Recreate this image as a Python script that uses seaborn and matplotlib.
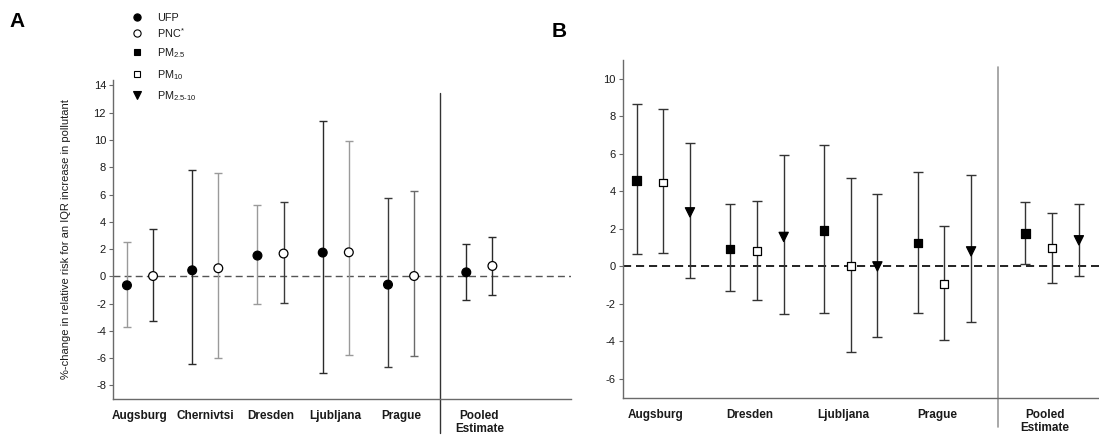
import numpy as np
import pandas as pd
import matplotlib
matplotlib.use("Agg")
import matplotlib.pyplot as plt
from matplotlib.lines import Line2D
import seaborn as sns

# ---- Panel A: ultrafine particles (UFP) and particle number concentration (PNC)
cities_a = ["Augsburg", "Chernivtsi", "Dresden", "Ljubljana", "Prague", "Pooled\nEstimate"]
ufp_est = [-0.66, 0.44, 1.52, 1.74, -0.61, 0.29]
ufp_lo = [-3.75, -6.42, -2.06, -7.08, -6.62, -1.76]
ufp_hi = [2.52, 7.80, 5.25, 11.40, 5.78, 2.38]
pnc_est = [0.02, 0.59, 1.67, 1.76, 0.02, 0.76]
pnc_lo = [-3.28, -5.96, -1.93, -5.81, -5.86, -1.35]
pnc_hi = [3.48, 7.60, 5.44, 9.93, 6.25, 2.87]
yticks_a = list(range(-8, 15, 2))

# ---- Panel B: PM2.5, PM10 and coarse fraction PM2.5-10
cities_b = ["Augsburg", "Dresden", "Ljubljana", "Prague", "Pooled\nEstimate"]
pm25_est = [4.57, 0.93, 1.91, 1.23, 1.76]
pm25_lo = [0.64, -1.33, -2.47, -2.46, 0.12]
pm25_hi = [8.68, 3.31, 6.48, 5.04, 3.42]
pm10_est = [4.47, 0.82, 0.00, -0.93, 0.96]
pm10_lo = [0.69, -1.78, -4.57, -3.91, -0.91]
pm10_hi = [8.40, 3.47, 4.73, 2.14, 2.85]
pmc_est = [2.88, 1.57, 0.00, 0.80, 1.39]
pmc_lo = [-0.60, -2.53, -3.77, -2.99, -0.53]
pmc_hi = [6.55, 5.91, 3.88, 4.86, 3.35]
yticks_b = list(range(-6, 11, 2))

sns.set_theme(style="white")
plt.rcParams["font.family"] = ["Liberation Sans", "DejaVu Sans"]
plt.rcParams["mathtext.fontset"] = "custom"
plt.rcParams["mathtext.rm"] = "Liberation Sans"
plt.rcParams["mathtext.it"] = "Liberation Sans:italic"
plt.rcParams["mathtext.bf"] = "Liberation Sans:bold"

SPINE = "#6a6a6a"
TXT = "#1a1a1a"

fig = plt.figure(figsize=(10.99, 4.37), dpi=100)
axA = fig.add_axes([0.1028, 0.0870, 0.4168, 0.7299])
axB = fig.add_axes([0.5666, 0.0899, 0.4334, 0.7728])


def group_positions(n, pooled_gap):
    """City groups sit on integer slots; the pooled estimate is pushed right."""
    pos = np.arange(n, dtype=float)
    pos[-1] = pos[-2] + pooled_gap
    return pos


def long_frame(centers, offsets, names, ests, los, his):
    rows = []
    for name, off, est, lo, hi in zip(names, offsets, ests, los, his):
        for c, e, l, h in zip(centers, est, lo, hi):
            rows.append({"x": c + off, "est": e, "lo": l, "hi": h, "pollutant": name})
    return pd.DataFrame(rows)


def style_axis(ax, yticks, ylim, xlim, centers, labels, label_shift=0.0):
    ax.set_ylim(*ylim)
    ax.set_xlim(*xlim)
    ax.set_yticks(yticks)
    ax.set_yticklabels([str(t) for t in yticks])
    ax.set_xticks(centers + label_shift)
    ax.set_xticklabels(labels, fontweight="bold", fontsize=8.5, color=TXT,
                       linespacing=1.15)
    for s in ("top", "right"):
        ax.spines[s].set_visible(False)
    for s in ("left", "bottom"):
        ax.spines[s].set_color(SPINE)
        ax.spines[s].set_linewidth(1.0)
    ax.tick_params(axis="y", direction="out", length=3, width=0.8, color=SPINE,
                   labelsize=8, labelcolor=TXT, pad=2, left=True)
    ax.tick_params(axis="x", length=0, pad=8)
    ax.set_xlabel("")
    ax.set_ylabel("")
    ax.grid(False)


# ---------------- Panel A ----------------
cent_a = group_positions(len(cities_a), 1.2)
dfA = long_frame(cent_a, [-0.2, 0.2], ["UFP", "PNC"],
                 [ufp_est, pnc_est], [ufp_lo, pnc_lo], [ufp_hi, pnc_hi])

# whisker tones alternate between dark and mid grey
bar_tone_a = {"UFP": ["#9a9a9a", "#2a2a2a", "#9a9a9a", "#2a2a2a", "#3a3a3a", "#2a2a2a"],
              "PNC": ["#2a2a2a", "#9a9a9a", "#3a3a3a", "#9a9a9a", "#6a6a6a", "#2a2a2a"]}
for name, sub in dfA.groupby("pollutant"):
    for k, (_, r) in enumerate(sub.iterrows()):
        axA.errorbar(r["x"], r["est"], yerr=[[r["est"] - r["lo"]], [r["hi"] - r["est"]]],
                     fmt="none", ecolor=bar_tone_a[name][k], elinewidth=1.0,
                     capsize=2.8, capthick=1.0, zorder=2)

axA.axhline(0, color="#555555", lw=1.0, ls=(0, (5, 3)), zorder=1)
sns.scatterplot(data=dfA, x="x", y="est", hue="pollutant", style="pollutant",
                size="pollutant", palette={"UFP": "black", "PNC": "white"},
                markers={"UFP": "o", "PNC": "o"}, sizes={"UFP": 40, "PNC": 40},
                edgecolor="black", linewidth=0.9, legend=False, ax=axA, zorder=3)

style_axis(axA, yticks_a, (-9.0, 14.4), (-0.414, 6.605), cent_a, cities_a)
axA.axvline((cent_a[-2] + cent_a[-1]) / 2, ymin=-0.107, ymax=0.959, clip_on=False,
            color="#333333", lw=1.0, zorder=1)
axA.set_ylabel("%-change in relative risk for an IQR increase in pollutant",
               fontsize=8, color=TXT)
axA.yaxis.set_label_coords(-0.092, 0.5)

# ---------------- Panel B ----------------
cent_b = group_positions(len(cities_b), 1.15)
dfB = long_frame(cent_b, [-0.285, 0.0, 0.285], ["PM2.5", "PM10", "PM2.5-10"],
                 [pm25_est, pm10_est, pmc_est], [pm25_lo, pm10_lo, pmc_lo],
                 [pm25_hi, pm10_hi, pmc_hi])

for _, r in dfB.iterrows():
    axB.errorbar(r["x"], r["est"], yerr=[[r["est"] - r["lo"]], [r["hi"] - r["est"]]],
                 fmt="none", ecolor="#333333", elinewidth=1.0,
                 capsize=3.6, capthick=1.0, zorder=2)

axB.axhline(0, color="#111111", lw=1.3, ls=(0, (4.5, 2.7)), zorder=1)
sns.scatterplot(data=dfB, x="x", y="est", hue="pollutant", style="pollutant",
                size="pollutant",
                palette={"PM2.5": "black", "PM10": "white", "PM2.5-10": "black"},
                markers={"PM2.5": "s", "PM10": "s", "PM2.5-10": "v"},
                sizes={"PM2.5": 36, "PM10": 32, "PM2.5-10": 44},
                edgecolor="black", linewidth=0.9, legend=False, ax=axB, zorder=3)

style_axis(axB, yticks_b, (-7.0, 11.0), (-0.433, 4.65), cent_b, cities_b,
           label_shift=-0.08)
axB.axvline((cent_b[-2] + cent_b[-1]) / 2, ymin=-0.086, ymax=0.978, clip_on=False,
            color="#9a9a9a", lw=1.2, zorder=1)

# ---------------- panel letters ----------------
fig.text(0.009, 0.938, "A", fontsize=15, fontweight="bold", color="black")
fig.text(0.502, 0.915, "B", fontsize=15, fontweight="bold", color="black")

# ---------------- shared key ----------------
key = [
    ("o", "black", r"UFP", 16.5, 20.7),
    ("o", "white", r"PNC$\mathregular{^{*}}$", 33.3, 37.8),
    ("s", "black", r"PM$\mathregular{_{2.5}}$", 52.0, 56.5),
    ("s", "white", r"PM$\mathregular{_{10}}$", 74.0, 78.3),
    ("v", "black", r"PM$\mathregular{_{2.5\text{-}10}}$", 95.0, 99.3),
]
H = 437.0
W = 1099.0
for mk, fc, lab, ym, yb in key:
    ms = 5.2 if mk != "v" else 6.0
    if mk == "s":
        ms = 4.6
    fig.add_artist(Line2D([137.0 / W], [1 - ym / H], marker=mk, markersize=ms,
                          markerfacecolor=fc, markeredgecolor="black",
                          markeredgewidth=0.8, linestyle="none",
                          transform=fig.transFigure))
    fig.text(157 / W, 1 - yb / H, lab, fontsize=7.8, color=TXT, va="baseline")

fig.savefig("out.png", dpi=100)
